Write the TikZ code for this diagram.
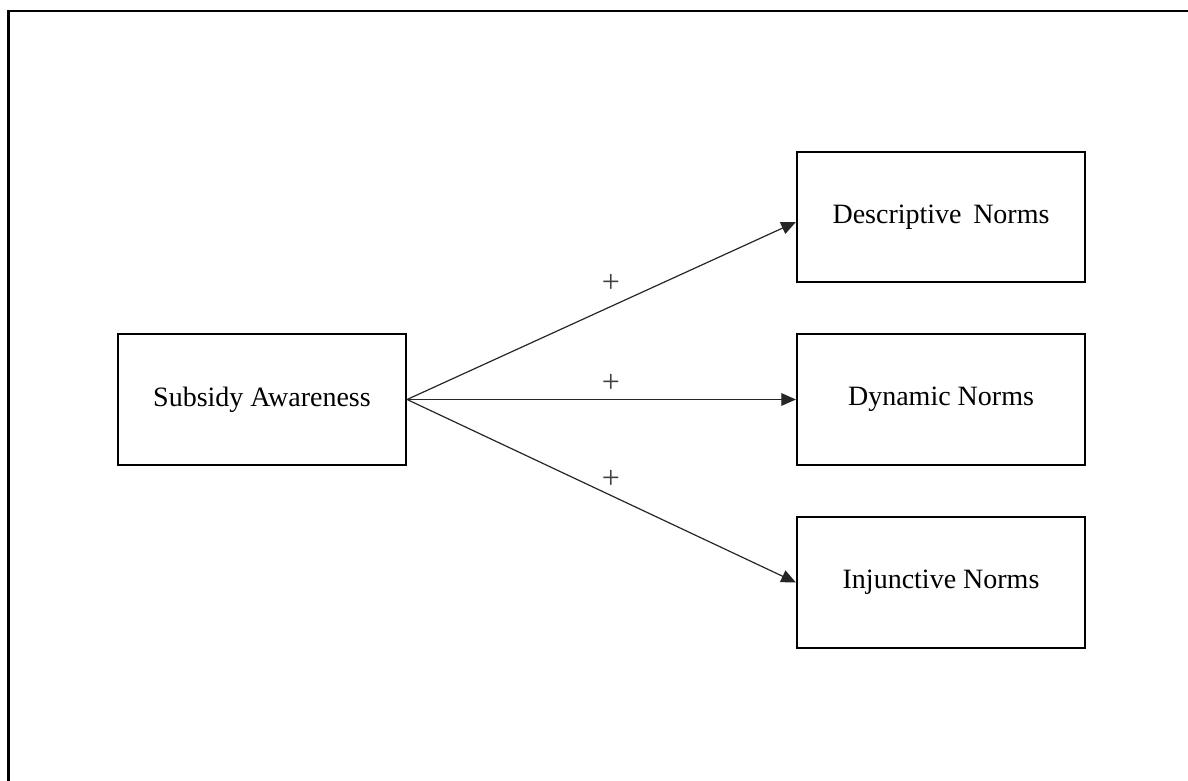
\documentclass[tikz,border=0pt]{standalone}
\usepackage{fontspec}
\setmainfont{Liberation Serif}
\usetikzlibrary{arrows.meta,calc}
\begin{document}
\begin{tikzpicture}[x=0.75pt,y=-0.75pt,
  box/.style={draw=black,line width=1.6pt,minimum width=216pt,minimum height=98pt,inner sep=0pt,font=\fontsize{21}{24}\selectfont},
  conn/.style={draw=black!85,line width=0.9pt,-{Triangle[length=11pt,width=9.5pt]}},
  plus/.style={font=\fontsize{24}{26}\selectfont,text=black!75,inner sep=0pt}]
\useasboundingbox (0,0) rectangle (1188,781);
\clip (0,0) rectangle (1188,781);
\draw[line width=1.6pt] (8.5,11) rectangle (1220,820);
\node[box] (sub) at (262,399.5) {Subsidy Awareness};
\node[box] (desc) at (941,217) {Descriptive\, Norms};
\node[box] (dyn) at (941,399.5) {Dynamic Norms};
\node[box] (inj) at (941,582.5) {Injunctive Norms};
\draw[conn] (sub.east) -- ($(desc.west)+(0,5)$);
\draw[conn] (sub.east) -- (dyn.west);
\draw[conn] (sub.east) -- (inj.west);
\node[plus] (p1) at (611,283) {+};
\node[plus] (p2) at (611,383) {+};
\node[plus] (p3) at (611,479) {+};
\end{tikzpicture}
\end{document}
